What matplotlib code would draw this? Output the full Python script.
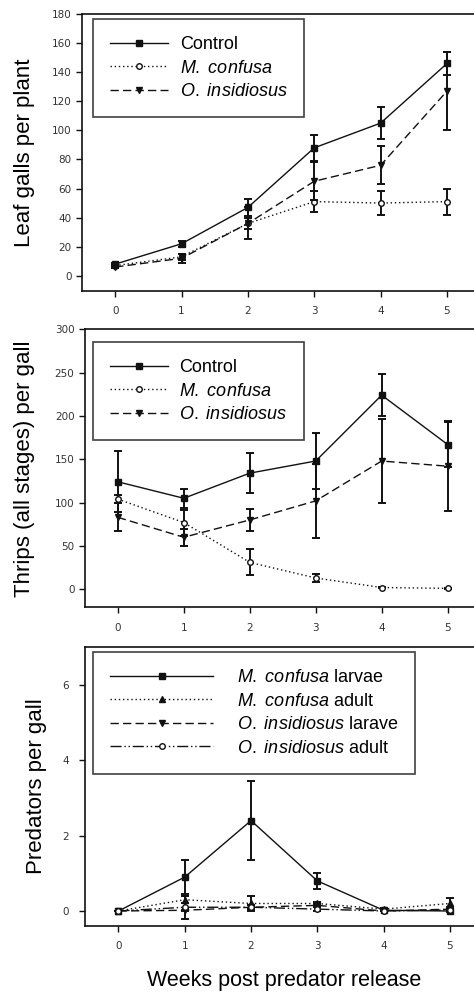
import numpy as np
import matplotlib
matplotlib.use("Agg")
import matplotlib.pyplot as plt

plt.rcParams['font.family'] = ['Liberation Sans', 'DejaVu Sans']
plt.rcParams['mathtext.fontset'] = 'custom'
plt.rcParams['mathtext.rm'] = 'Liberation Sans'
plt.rcParams['mathtext.it'] = 'Liberation Sans:italic'

weeks = [0, 1, 2, 3, 4, 5]

# Leaf galls per plant (mean, SE)
galls_control = [8, 22, 47, 88, 105, 146]
galls_control_se = [1, 2, 6, 9, 11, 8]
galls_mconf = [7, 13, 36, 51, 50, 51]
galls_mconf_se = [1, 2, 4, 7, 8, 9]
galls_oins = [6, 12, 36, 65, 76, 127]
galls_oins_se = [1, 3, 11, 13, 13, 27]

# Thrips (all stages) per gall
thrips_control = [124, 105, 134, 148, 224, 167]
thrips_control_se = [35, 11, 23, 32, 24, 26]
thrips_mconf = [104, 77, 31, 13, 2, 1]
thrips_mconf_se = [5, 15, 15, 5, 1, 1]
thrips_oins = [83, 60, 80, 102, 148, 142]
thrips_oins_se = [16, 10, 13, 43, 48, 52]

# Predators per gall
mc_larvae = [0, 0.9, 2.4, 0.8, 0.02, 0.0]
mc_larvae_se = [0, 0.45, 1.05, 0.22, 0.02, 0]
mc_adult = [0, 0.3, 0.2, 0.2, 0.05, 0.2]
mc_adult_se = [0, 0.1, 0.2, 0.05, 0.02, 0.15]
oi_larvae = [0, 0.02, 0.1, 0.15, 0.0, 0.05]
oi_larvae_se = [0, 0.02, 0.05, 0.05, 0, 0.05]
oi_adult = [0, 0.1, 0.1, 0.05, 0.0, 0.03]
oi_adult_se = [0, 0.3, 0.05, 0.05, 0, 0.05]

fig = plt.figure(figsize=(4.74, 9.97), dpi=100)
ax1 = fig.add_axes([0.173, 0.7081, 0.840, 0.2778])
ax2 = fig.add_axes([0.179, 0.3909, 0.835, 0.2788])
ax3 = fig.add_axes([0.180, 0.0715, 0.839, 0.2793])

ink = '#111111'


def draw(ax, y, se, ls, marker, mfc, label):
    ax.errorbar(weeks, y, yerr=se, fmt='none', ecolor=ink, elinewidth=1.4,
                capsize=3, capthick=1.4)
    ax.plot(weeks, y, linestyle=ls, color=ink, lw=1.0, marker=marker,
            markersize=4, markerfacecolor=mfc, markeredgecolor=ink,
            label=label)


dot = (0, (1, 2))
dash = (0, (6, 3))
dashdot = (0, (8, 2, 1, 2, 1, 2))

mc = r'$\mathit{M.\ confusa}$'
oi = r'$\mathit{O.\ insidiosus}$'

draw(ax1, galls_control, galls_control_se, '-', 's', ink, 'Control')
draw(ax1, galls_mconf, galls_mconf_se, dot, 'o', 'white', mc)
draw(ax1, galls_oins, galls_oins_se, dash, 'v', ink, oi)

draw(ax2, thrips_control, thrips_control_se, '-', 's', ink, 'Control')
draw(ax2, thrips_mconf, thrips_mconf_se, dot, 'o', 'white', mc)
draw(ax2, thrips_oins, thrips_oins_se, dash, 'v', ink, oi)

draw(ax3, mc_larvae, mc_larvae_se, '-', 's', ink, mc + ' larvae')
draw(ax3, mc_adult, mc_adult_se, dot, '^', ink, mc + ' adult')
draw(ax3, oi_larvae, oi_larvae_se, dash, 'v', ink, oi + ' larave')
draw(ax3, oi_adult, oi_adult_se, dashdot, 'o', 'white', oi + ' adult')

ax1.set_ylim(-10.5, 180)
ax1.set_yticks(np.arange(0, 181, 20))
ax2.set_ylim(-20.8, 300)
ax2.set_yticks(np.arange(0, 301, 50))
ax3.set_ylim(-0.39, 7.0)
ax3.set_yticks([0, 2, 4, 6])

lab_fs = 16
ax1.set_ylabel('Leaf galls per plant', fontsize=lab_fs, labelpad=12)
ax2.set_ylabel('Thrips (all stages) per gall', fontsize=lab_fs, labelpad=14)
ax3.set_ylabel('Predators per gall', fontsize=lab_fs, labelpad=11)
ax3.set_xlabel('Weeks post predator release', fontsize=15.5, labelpad=14)

for ax in (ax1, ax2, ax3):
    ax.set_xlim(-0.5, 5.5)
    ax.set_xticks(weeks)
    ax.tick_params(direction='out', length=4, width=1, colors=ink,
                   labelcolor='#333333')
    for t in ax.get_xticklabels() + ax.get_yticklabels():
        t.set_family('DejaVu Sans')
        t.set_fontsize(7.5)
    ax.tick_params(axis='x', pad=7)
    for s in ax.spines.values():
        s.set_linewidth(1.2)
        s.set_color(ink)

ax3.tick_params(axis='y', pad=8)

leg_kw = dict(loc='upper left', frameon=True, fancybox=False, numpoints=1,
              edgecolor=ink, fontsize=13, borderaxespad=0, borderpad=0.95,
              labelspacing=0.36)
l1 = ax1.legend(handlelength=3.2, handletextpad=0.65,
                bbox_to_anchor=(0.0276, 0.982), **leg_kw)
l2 = ax2.legend(handlelength=3.2, handletextpad=0.65,
                bbox_to_anchor=(0.02, 0.954), **leg_kw)
l3 = ax3.legend(handlelength=5.7, handletextpad=1.3,
                bbox_to_anchor=(0.02, 0.983), **leg_kw)
for leg in (l1, l2, l3):
    leg.get_frame().set_linewidth(1.2)

fig.savefig('out.png', dpi=100)
